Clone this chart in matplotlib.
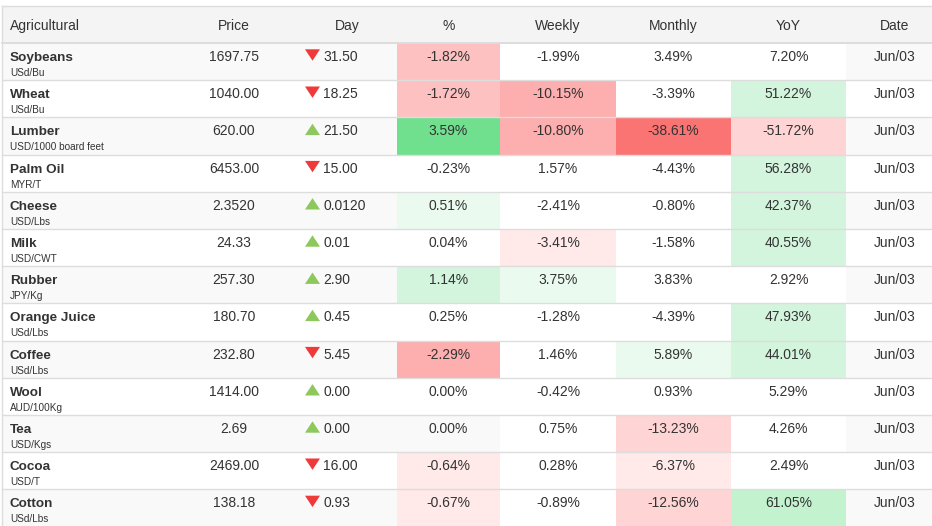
import matplotlib
matplotlib.use("Agg")
import matplotlib.pyplot as plt
from matplotlib.patches import Rectangle, Polygon

# ---------------- data ----------------
names = ["Soybeans", "Wheat", "Lumber", "Palm Oil", "Cheese", "Milk", "Rubber",
         "Orange Juice", "Coffee", "Wool", "Tea", "Cocoa", "Cotton"]
units = ["USd/Bu", "USd/Bu", "USD/1000 board feet", "MYR/T", "USD/Lbs", "USD/CWT",
         "JPY/Kg", "USd/Lbs", "USd/Lbs", "AUD/100Kg", "USD/Kgs", "USD/T", "USd/Lbs"]
prices = ["1697.75", "1040.00", "620.00", "6453.00", "2.3520", "24.33", "257.30",
          "180.70", "232.80", "1414.00", "2.69", "2469.00", "138.18"]
day_change = ["31.50", "18.25", "21.50", "15.00", "0.0120", "0.01", "2.90",
              "0.45", "5.45", "0.00", "0.00", "16.00", "0.93"]
day_up = [False, False, True, False, True, True, True, True, False, True, True, False, False]
pct = [-1.82, -1.72, 3.59, -0.23, 0.51, 0.04, 1.14, 0.25, -2.29, 0.00, 0.00, -0.64, -0.67]
weekly = [-1.99, -10.15, -10.80, 1.57, -2.41, -3.41, 3.75, -1.28, 1.46, -0.42, 0.75, 0.28, -0.89]
monthly = [3.49, -3.39, -38.61, -4.43, -0.80, -1.58, 3.83, -4.39, 5.89, 0.93, -13.23, -6.37, -12.56]
yoy = [7.20, 51.22, -51.72, 56.28, 42.37, 40.55, 2.92, 47.93, 44.01, 5.29, 4.26, 2.49, 61.05]
dates = ["Jun/03"] * 13
headers = ["Agricultural", "Price", "Day", "%", "Weekly", "Monthly", "YoY", "Date"]

# ---------------- style ----------------
W, H = 932, 526
TEXT = "#333333"
BORDER = "#dddddd"
STRIPE = "#f9f9f9"
HEAD_BG = "#f4f4f4"
REDS = ["#ffffff", "#ffe9e9", "#fed4d4", "#fec1c1", "#fdaeae", "#fa7474"]
GREENS = ["#ffffff", "#eafaee", "#d3f5de", "#c3f2cf", "#9ae8b0", "#70e08e"]
col_scale = [1, 5, 10, 40]        # heat-map scale per % column
steps = [0.5, 1.0, 1.5, 2.0, 3.0]  # multiples of the scale

FONT = "Liberation Sans"
FS = 10.0      # 14px
FS_NAME = 9.7
FS_UNIT = 7.2

top0 = 6.0
head_bottom = 43.0
row_h = 37.2
left = 1.5
val_edges = [397, 500, 616, 731, 846]
val_centers = [(val_edges[i] + val_edges[i + 1]) / 2 for i in range(4)]
price_x = 234
day_head_x = 347
tri_x0, tri_x1 = 305, 320
day_text_x = 323
date_x = 895


def level(v, k):
    a = abs(v) / k
    lv = 0
    for s in steps:
        if a >= s:
            lv += 1
    return lv


fig = plt.figure(figsize=(W / 100, H / 100), dpi=100)
ax = fig.add_axes([0, 0, 1, 1])
ax.set_xlim(0, W)
ax.set_ylim(H, 0)
ax.axis("off")

# header
ax.add_patch(Rectangle((left, top0), W - left, head_bottom - top0, facecolor=HEAD_BG, edgecolor="none"))
hy = 30
ax.text(10, hy, headers[0], ha="left", va="baseline", fontsize=FS, color=TEXT, family=FONT)
ax.text(price_x, hy, headers[1], ha="center", va="baseline", fontsize=FS, color=TEXT, family=FONT)
ax.text(day_head_x, hy, headers[2], ha="center", va="baseline", fontsize=FS, color=TEXT, family=FONT)
for j in range(4):
    ax.text(val_centers[j], hy, headers[3 + j], ha="center", va="baseline", fontsize=FS, color=TEXT, family=FONT)
ax.text(date_x, hy, headers[7], ha="center", va="baseline", fontsize=FS, color=TEXT, family=FONT)

cols = [pct, weekly, monthly, yoy]
for i, name in enumerate(names):
    t = head_bottom + i * row_h
    striped = (i % 2 == 0)
    base_bg = STRIPE if striped else "#ffffff"
    ax.add_patch(Rectangle((left, t), W - left, row_h, facecolor=base_bg, edgecolor="none"))
    # value cells
    for j, col in enumerate(cols):
        v = col[i]
        if v == 0:
            fc = base_bg
        else:
            lv = level(v, col_scale[j])
            fc = (GREENS if v > 0 else REDS)[lv]
        ax.add_patch(Rectangle((val_edges[j], t), val_edges[j + 1] - val_edges[j], row_h,
                               facecolor=fc, edgecolor="none"))
        ax.text(val_centers[j], t + 18, f"{v:.2f}%", ha="center", va="baseline",
                fontsize=FS, color=TEXT, family=FONT)
    # name / unit
    ax.text(10, t + 18, name, ha="left", va="baseline", fontsize=FS_NAME, color=TEXT,
            family=FONT, fontweight="bold")
    ax.text(10, t + 33, units[i], ha="left", va="baseline", fontsize=FS_UNIT, color=TEXT, family=FONT)
    # price
    ax.text(price_x, t + 18, prices[i], ha="center", va="baseline", fontsize=FS, color=TEXT, family=FONT)
    # day triangle
    if day_up[i]:
        pts = [(tri_x0, t + 17.7), (tri_x1, t + 17.7), ((tri_x0 + tri_x1) / 2, t + 6.3)]
        tc = "#8cc85c"
    else:
        pts = [(tri_x0, t + 6.3), (tri_x1, t + 6.3), ((tri_x0 + tri_x1) / 2, t + 17.7)]
        tc = "#f03a3a"
    ax.add_patch(Polygon(pts, closed=True, facecolor=tc, edgecolor="none"))
    ax.text(day_text_x, t + 18, day_change[i], ha="left", va="baseline", fontsize=FS, color=TEXT, family=FONT)
    # date
    ax.text(date_x, t + 18, dates[i], ha="center", va="baseline", fontsize=FS, color=TEXT, family=FONT)

# borders
ax.plot([left, W], [top0, top0], color=BORDER, lw=1.0)
ax.plot([left, left], [top0, H], color=BORDER, lw=1.0)
for i in range(len(names) + 1):
    y = head_bottom + i * row_h
    ax.plot([left, W], [y, y], color=BORDER, lw=1.4 if i == 0 else 1.0)

fig.savefig("out.png", dpi=100, facecolor="white")
